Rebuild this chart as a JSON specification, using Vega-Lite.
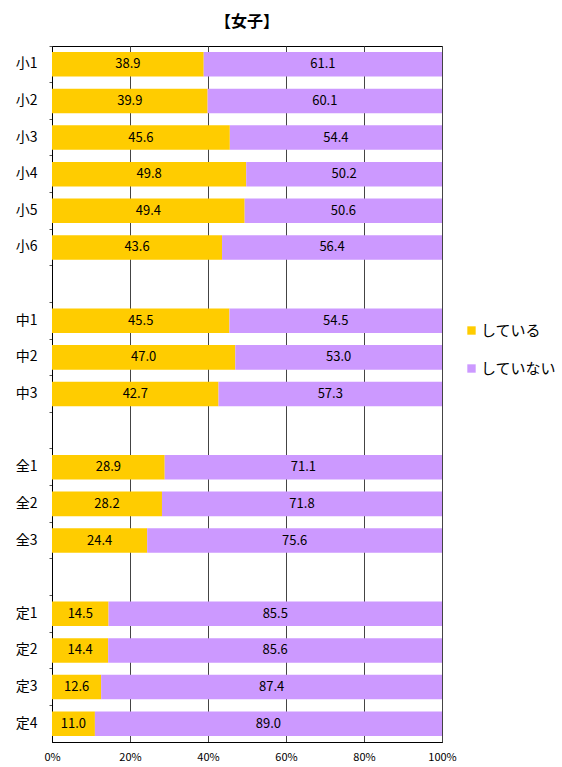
{
  "$schema": "https://vega.github.io/schema/vega-lite/v6.json",
  "autosize": "none",
  "padding": {"left": 52, "top": 46, "right": 120, "bottom": 25},
  "width": 390,
  "height": 696,
  "background": "white",
  "title": {"text": "【女子】", "fontSize": 16, "fontWeight": "bold", "font": "Noto Sans CJK JP", "color": "black", "offset": 16, "anchor": "middle"},
  "config": {
    "view": {"stroke": "black", "strokeWidth": 1},
    "font": "Noto Sans CJK JP"
  },
  "data": {"values": [
    {"cat": "小1", "type": "している", "o": 1, "v": 38.9}, {"cat": "小1", "type": "していない", "o": 2, "v": 61.1},
    {"cat": "小2", "type": "している", "o": 1, "v": 39.9}, {"cat": "小2", "type": "していない", "o": 2, "v": 60.1},
    {"cat": "小3", "type": "している", "o": 1, "v": 45.6}, {"cat": "小3", "type": "していない", "o": 2, "v": 54.4},
    {"cat": "小4", "type": "している", "o": 1, "v": 49.8}, {"cat": "小4", "type": "していない", "o": 2, "v": 50.2},
    {"cat": "小5", "type": "している", "o": 1, "v": 49.4}, {"cat": "小5", "type": "していない", "o": 2, "v": 50.6},
    {"cat": "小6", "type": "している", "o": 1, "v": 43.6}, {"cat": "小6", "type": "していない", "o": 2, "v": 56.4},
    {"cat": "中1", "type": "している", "o": 1, "v": 45.5}, {"cat": "中1", "type": "していない", "o": 2, "v": 54.5},
    {"cat": "中2", "type": "している", "o": 1, "v": 47.0}, {"cat": "中2", "type": "していない", "o": 2, "v": 53.0},
    {"cat": "中3", "type": "している", "o": 1, "v": 42.7}, {"cat": "中3", "type": "していない", "o": 2, "v": 57.3},
    {"cat": "全1", "type": "している", "o": 1, "v": 28.9}, {"cat": "全1", "type": "していない", "o": 2, "v": 71.1},
    {"cat": "全2", "type": "している", "o": 1, "v": 28.2}, {"cat": "全2", "type": "していない", "o": 2, "v": 71.8},
    {"cat": "全3", "type": "している", "o": 1, "v": 24.4}, {"cat": "全3", "type": "していない", "o": 2, "v": 75.6},
    {"cat": "定1", "type": "している", "o": 1, "v": 14.5}, {"cat": "定1", "type": "していない", "o": 2, "v": 85.5},
    {"cat": "定2", "type": "している", "o": 1, "v": 14.4}, {"cat": "定2", "type": "していない", "o": 2, "v": 85.6},
    {"cat": "定3", "type": "している", "o": 1, "v": 12.6}, {"cat": "定3", "type": "していない", "o": 2, "v": 87.4},
    {"cat": "定4", "type": "している", "o": 1, "v": 11.0}, {"cat": "定4", "type": "していない", "o": 2, "v": 89.0}
  ]},
  "transform": [
    {"stack": "v", "groupby": ["cat"], "sort": [{"field": "o", "order": "ascending"}], "as": ["s0", "s1"]},
    {"calculate": "(datum.s0 + datum.s1) / 2", "as": "mid"}
  ],
  "encoding": {
    "y": {
      "field": "cat", "type": "nominal",
      "scale": {"domain": ["小1","小2","小3","小4","小5","小6"," ","中1","中2","中3","  ","全1","全2","全3","   ","定1","定2","定3","定4"], "paddingInner": 0.33, "paddingOuter": 0.165},
      "axis": {"title": null, "labelFontSize": 14, "labelColor": "black", "labelPadding": 12, "domainColor": "black", "tickColor": "#555", "tickSize": 3, "bandPosition": -0.246, "labelBaseline": "middle"}
    }
  },
  "layer": [
    {
      "mark": {"type": "bar"},
      "encoding": {
        "x": {"field": "s0", "type": "quantitative", "scale": {"domain": [0, 100], "nice": false},
          "axis": {"title": null, "values": [0, 20, 40, 60, 80, 100], "labelExpr": "datum.value + '%'", "labelFontSize": 11, "labelColor": "black", "ticks": false, "labelPadding": 9, "grid": true, "gridColor": "#444", "gridWidth": 1, "domainColor": "black", "labelFlush": false}},
        "x2": {"field": "s1"},
        "color": {"field": "type", "type": "nominal",
          "scale": {"domain": ["している", "していない"], "range": ["#FFCC00", "#CC99FF"]},
          "legend": {"title": null, "orient": "none", "legendX": 412, "legendY": 277, "symbolType": "square", "symbolSize": 70, "symbolStrokeWidth": 0, "labelFontSize": 15, "labelColor": "black", "rowPadding": 22, "labelOffset": 2}}
      }
    },
    {
      "mark": {"type": "text", "fontSize": 13, "color": "black", "baseline": "middle", "align": "center"},
      "encoding": {
        "x": {"field": "mid", "type": "quantitative"},
        "text": {"field": "v", "type": "quantitative", "format": ".1f"}
      }
    }
  ]
}
